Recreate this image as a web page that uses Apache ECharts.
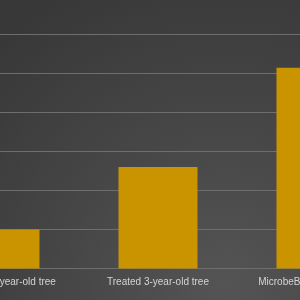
<!DOCTYPE html>
<html><head><meta charset="utf-8">
<script src="https://cdn.jsdelivr.net/npm/echarts@6/dist/echarts.min.js"></script>
<style>html,body{margin:0;padding:0;background:#3f3f3f}#c{width:300px;height:300px}</style>
</head><body><div id="c"></div>
<script>
var categories = ["Untreated 3-year-old tree", "Treated 3-year-old tree", "MicrobeBoost-treated tree"];
var values = [1.0, 2.6, 5.15];
var yMin = 0, yMax = 6, yStep = 1;

var chart = echarts.init(document.getElementById('c'), null, {renderer: 'canvas'});
chart.setOption({
  animation: false,
  backgroundColor: {
    type: 'radial', x: 0.75, y: 0.95, r: 1.1,
    colorStops: [{offset: 0, color: '#545454'}, {offset: 1, color: '#383838'}]
  },
  grid: {left: -79, width: 474, top: 34.5, height: 234, containLabel: false, outerBoundsMode: 'none'},
  xAxis: {
    type: 'category', data: categories,
    axisLine: {show: false}, axisTick: {show: false},
    axisLabel: {color: '#d4d4d4', fontSize: 10, fontFamily: 'Liberation Sans, sans-serif', margin: 9, interval: 0}
  },
  yAxis: {
    type: 'value', min: yMin, max: yMax, interval: yStep,
    axisLine: {show: false}, axisTick: {show: false}, axisLabel: {show: false},
    splitLine: {lineStyle: {color: '#6e6e6e', width: 1}}
  },
  series: [{
    type: 'bar', data: values, barCategoryGap: '50%',
    itemStyle: {color: '#C99400'}
  }]
});
</script></body></html>
